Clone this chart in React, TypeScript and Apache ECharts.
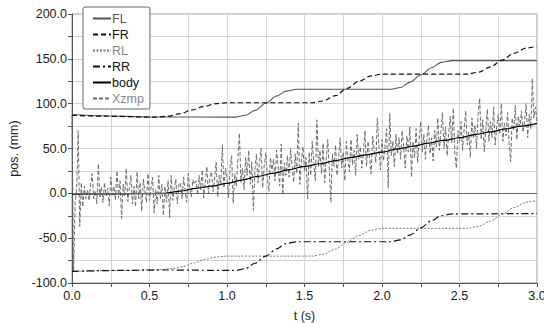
import React, { useEffect, useRef } from "react";
import * as echarts from "echarts";

const FL: [number, number][] = [[0,88],[0.2,86.5],[0.5,85.2],[1.05,85],[1.12,87],[1.18,92.5],[1.25,100.5],[1.32,108.5],[1.38,114],[1.45,116],[2.05,116],[2.12,118],[2.18,124],[2.25,132],[2.32,140],[2.38,146],[2.45,148],[3.0,148]];
const FR: [number, number][] = [[0,87],[0.2,86],[0.55,85],[0.62,86],[0.7,89],[0.775,93],[0.85,97],[0.93,100],[1.0,101],[1.55,101],[1.62,103],[1.7,109],[1.775,117],[1.85,125],[1.93,131],[2.0,133],[2.55,133],[2.62,135],[2.7,141],[2.775,148.5],[2.85,156],[2.93,162],[3.0,164]];
const RL: [number, number][] = [[0,-87],[0.3,-86],[0.58,-85],[0.65,-84],[0.72,-81.5],[0.79,-77.5],[0.86,-73.5],[0.93,-71],[1.0,-70],[1.55,-70],[1.62,-68],[1.7,-62],[1.775,-54.5],[1.85,-47],[1.93,-41],[2.0,-39],[2.55,-39],[2.62,-37],[2.7,-31],[2.775,-23.5],[2.85,-16],[2.93,-10],[3.0,-8]];
const RR: [number, number][] = [[0,-87],[0.3,-86],[0.6,-85.5],[1.05,-86],[1.12,-84],[1.18,-78],[1.25,-70],[1.32,-62],[1.38,-56],[1.45,-54],[2.05,-54],[2.12,-52],[2.18,-46.5],[2.25,-38.5],[2.32,-30.5],[2.38,-25],[2.45,-23],[3.0,-22.5]];
const BODY: [number, number][] = [[0,-1],[0.3,-0.5],[0.6,0],[0.7,2.5],[0.8,5.5],[0.9,8],[1.0,11],[1.1,15],[1.2,19],[1.3,22.5],[1.4,26.5],[1.5,30],[1.6,33],[1.7,36.5],[1.8,40],[1.9,43],[2.0,46],[2.1,49.5],[2.2,52.5],[2.3,56],[2.4,59],[2.5,62],[2.6,65.5],[2.7,68.5],[2.8,72],[2.9,75],[3.0,78]];

// Xzmp sampled every 0.01 s from t = 0
const XZMP_STEP = 0.01;
const XZMP: number[] = [
  87, -87, -10, 5, 70, -37, 12, -15, 8, -6,
  4, -8, 10, 22, -6, 3, -12, 33, -4, 7,
  -10, 12, -3, 6, -14, 18, -2, 8, -7, 25,
  -5, 14, -28, 10, -3, 28, -9, 5, 20, -12,
  8, -15, 24, -6, 12, -20, 16, 3, -10, 22,
  -8, 6, 18, -22, 4, -12, 20, -6, 10, -25,
  8, -10, 14, -27, 20, -8, 6, 16, -12, 10,
  12, -6, 18, 2, -10, 22, 6, -4, 15, 10,
  14, -2, 20, 4, 26, -5, 12, 30, 0, 18,
  24, 2, 16, 35, -4, 20, 10, 54, 6, 28,
  18, -5, 30, 42, -11, 22, 8, 38, 67, 12,
  28, 4, 40, 20, 48, 10, 35, -19, 26, 44,
  12, 36, 50, 6, 30, 45, 18, 2, 40, 26,
  38, 14, 48, 30, 8, 55, -2, 34, 20, 42,
  18, 50, 30, 12, 44, 22, 78, 10, 36, 52,
  24, 40, -6, 46, 20, 58, 34, 14, 82, 30,
  48, 22, 56, 12, 38, 60, 26, -10, 44, 30,
  54, 20, 40, 62, 28, 46, 14, 58, 36, 24,
  60, 32, 48, 20, 66, 38, 52, 28, 44, 70,
  30, 58, 40, 22, 64, 48, 34, 84, 52, 26,
  60, 36, 54, 72, 6, 89, 42, 58, 30, 66,
  44, 62, 38, 70, 50, 28, 64, 46, 74, 18,
  58, 40, 72, 34, 60, 80, 46, 66, 38, 62,
  76, 44, 62, 36, 70, 52, 84, 48, 68, 90,
  50, 74, 42, 66, 86, 56, 95, 44, 28, 70,
  58, 80, 48, 72, 92, 54, 68, 40, 84, 62,
  76, 50, 88, 106, 60, 82, 46, 72, 94, 58,
  80, 62, 96, 54, 74, 88, 66, 100, 58, 78,
  64, 90, 56, 35, 84, 70, 98, 60, 86, 74,
  92, 68, 80, 100, 62, 88, 72, 128, 84, 96,
  80,
];

const X_TICKS = [0, 0.5, 1.0, 1.5, 2.0, 2.5, 3.0];

const FONT = "Liberation Sans, Arial, sans-serif";

export default function App() {
  const ref = useRef<HTMLDivElement>(null);
  useEffect(() => {
    document.documentElement.style.overflow = "hidden";
    document.body.style.margin = "0";
    document.body.style.overflow = "hidden";
    if (!ref.current) return;
    const chart = echarts.init(ref.current, undefined, { renderer: "svg", width: 544, height: 323 });
    const xzmpData = XZMP.map((v, i) => [+(i * XZMP_STEP).toFixed(2), v]);
    const leg = (name: string, c: string) => ({
      name,
      textStyle: { color: c },
      itemStyle: { opacity: 0 },
    });
    chart.setOption({
      animation: false,
      textStyle: { fontFamily: FONT },
      grid: {
        left: 72, right: 7, top: 14, bottom: 40,
        outerBoundsMode: "none",
        containLabel: false,
        show: true, borderColor: "#9a9a9a", borderWidth: 1,
      },
      legend: {
        orient: "vertical",
        left: 83, top: 7,
        padding: [5, 6, 4, 9],
        itemWidth: 18, itemHeight: 12, itemGap: 3,
        backgroundColor: "#fff",
        borderColor: "#666", borderWidth: 1, borderRadius: 2,
        itemStyle: { opacity: 0 },
        textStyle: { fontSize: 12.5, fontFamily: FONT, padding: [0, 0, 0, -4] },
        data: [
          leg("FL", "#555"),
          leg("FR", "#111"),
          leg("RL", "#888"),
          leg("RR", "#111"),
          leg("body", "#111"),
          leg("Xzmp", "#888"),
        ],
      },
      xAxis: {
        type: "value", min: 0, max: 3, interval: 0.5,
        name: "t (s)", nameLocation: "middle", nameGap: 26,
        nameTextStyle: { fontSize: 12.5, color: "#222", fontFamily: FONT },
        axisLine: { onZero: false, lineStyle: { color: "#555" } },
        axisTick: { show: true, length: 4, lineStyle: { color: "#555" } },
        minorTick: { show: true, splitNumber: 2, length: 4, lineStyle: { color: "#555" } },
        axisLabel: {
          fontSize: 12.5, color: "#222", margin: 6,
          customValues: X_TICKS,
          formatter: (v: number) => v.toFixed(1),
        },
        splitLine: { show: true, lineStyle: { color: "#d4d4d4" } },
        minorSplitLine: { show: true, lineStyle: { color: "#d4d4d4" } },
      },
      yAxis: {
        type: "value", min: -100, max: 200, interval: 50,
        name: "pos. (mm)", nameLocation: "middle", nameGap: 41,
        nameTextStyle: { fontSize: 12.5, color: "#222", fontFamily: FONT },
        axisLine: { show: true, lineStyle: { color: "#555" } },
        axisTick: { show: true, length: 4, lineStyle: { color: "#555" } },
        minorTick: { show: true, splitNumber: 2, length: 4, lineStyle: { color: "#555" } },
        axisLabel: {
          fontSize: 12.5, color: "#222", margin: 5,
          formatter: (v: number) => v.toFixed(1),
        },
        splitLine: { show: true, lineStyle: { color: "#d4d4d4" } },
        minorSplitLine: { show: true, lineStyle: { color: "#d4d4d4" } },
      },
      series: [
        {
          name: "Xzmp", type: "line", data: xzmpData, symbol: "none",
          lineStyle: { color: "#6e6e6e", width: 1, type: [4, 2] },
          itemStyle: { color: "#6e6e6e" },
          markLine: {
            silent: true, symbol: "none", label: { show: false },
            lineStyle: { color: "#666", width: 1, type: "solid" },
            data: [{ yAxis: 0 }],
          },
        },
        {
          name: "FL", type: "line", data: FL, symbol: "none", smooth: 0.3, smoothMonotone: "x",
          lineStyle: { color: "#555", width: 1.1, type: "solid" }, itemStyle: { color: "#555" },
        },
        {
          name: "FR", type: "line", data: FR, symbol: "none", smooth: 0.3, smoothMonotone: "x",
          lineStyle: { color: "#111", width: 1.2, type: [5, 3] }, itemStyle: { color: "#111" },
        },
        {
          name: "RL", type: "line", data: RL, symbol: "none", smooth: 0.3, smoothMonotone: "x",
          lineStyle: { color: "#777", width: 1, type: [2, 1.5] }, itemStyle: { color: "#777" },
        },
        {
          name: "RR", type: "line", data: RR, symbol: "none", smooth: 0.3, smoothMonotone: "x",
          lineStyle: { color: "#111", width: 1.2, type: [7, 3, 2, 3] }, itemStyle: { color: "#111" },
        },
        {
          name: "body", type: "line", data: BODY, symbol: "none", smooth: 0.3, smoothMonotone: "x",
          lineStyle: { color: "#000", width: 1.2, type: "solid" }, itemStyle: { color: "#000" },
        },
      ],
    });
    return () => chart.dispose();
  }, []);
  return <div ref={ref} style={{ width: 544, height: 323 }} />;
}
